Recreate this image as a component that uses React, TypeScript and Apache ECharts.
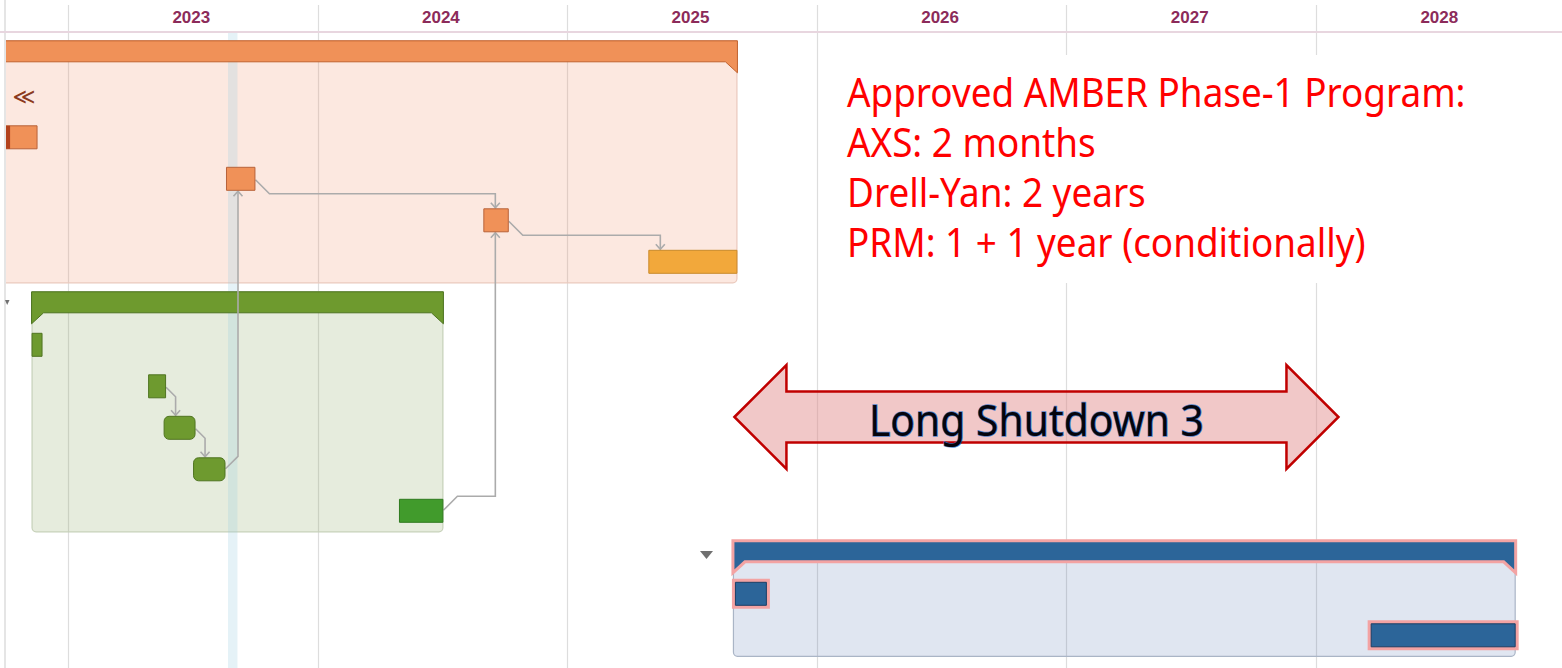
import React, { useEffect, useRef } from 'react';
import * as echarts from 'echarts';

// ---------- data ----------
const yearTicks = [2023, 2024, 2025, 2026, 2027, 2028];
const yearLabels = ['2023', '2024', '2025', '2026', '2027', '2028'];

// groups (summary bars)
const groupStart = [2022.6, 2022.854, 2025.664];
const groupEnd = [2025.682, 2024.504, 2028.8];
const groupFirstRow = [0, 6, 12];
const groupLastRow = [5, 11, 14];

// tasks
const taskStart = [2022.7, 2023.633, 2024.664, 2025.325, 2022.854, 2023.321, 2023.383, 2023.501, 2024.326, 2025.672, 2028.219];
const taskEnd = [2022.878, 2023.751, 2024.766, 2025.682, 2022.898, 2023.393, 2023.511, 2023.631, 2024.504, 2025.8, 2028.8];
const taskRow = [2, 3, 4, 5, 7, 8, 9, 10, 11, 13, 14];
const taskProgressEnd: (number | null)[] = [2022.768, null, null, null, null, null, null, null, null, null, null];

// dependencies (task index -> task index)
const depFrom = [1, 2, 5, 6, 7, 8];
const depTo = [2, 3, 6, 7, 1, 2];

// today marker
const todayStart = 2023.641;
const todayEnd = 2023.679;

// Long Shutdown 3
const ls3Start = 2025.67;
const ls3End = 2028.09;
const ls3Label = 'Long Shutdown 3';

// note
const noteLines = [
  'Approved AMBER Phase-1 Program:',
  'AXS: 2 months',
  'Drell-Yan: 2 years',
  'PRM: 1 + 1 year (conditionally)',
];

// ---------- styles ----------
const groupStyles = [
  { bg: 'rgba(242,150,115,0.22)', bgStroke: '#eac9bd', bar: '#f09158', barStroke: '#c0622e', barLw: 1, topAdj: -2 },
  { bg: 'rgba(140,170,100,0.22)', bgStroke: '#c6d1b9', bar: '#6e9a2e', barStroke: '#4d7420', barLw: 1, topAdj: 0 },
  { bg: 'rgba(60,100,170,0.16)', bgStroke: '#aab5c6', bar: '#2c6599', barStroke: '#f3a3a3', barLw: 3, topAdj: 0 },
];
const taskKind = ['orange', 'orange', 'orange', 'amber', 'green', 'green', 'greenR', 'greenR', 'green2', 'blue', 'blue'];
const taskStyles: Record<string, any> = {
  orange: { fill: '#f09158', stroke: '#b8633a', r: 0 },
  amber: { fill: '#f2a83b', stroke: '#c98a2a', r: 0 },
  green: { fill: '#6e9a2f', stroke: '#4f7420', r: 0 },
  greenR: { fill: '#6e9a2f', stroke: '#4f7420', r: 5 },
  green2: { fill: '#419b2c', stroke: '#2f7a1f', r: 0 },
  blue: { fill: '#2c6599', stroke: '#1b3f66', r: 0, glow: '#f3a3a3' },
};

const W = 1562;
const H = 668;

function buildOption() {
  const common = {
    type: 'custom' as const,
    coordinateSystem: 'cartesian2d',
    silent: true,
    animation: false,
  };

  const gridSeries = {
    ...common,
    z: 1,
    clip: false,
    encode: { x: 0, y: 1 },
    data: yearTicks.map((y) => [y, 0]),
    renderItem: (params: any, api: any) => {
      const x = Math.round(api.coord([api.value(0), 0])[0]) + 0.5;
      return {
        type: 'line',
        shape: { x1: x, y1: 5, x2: x, y2: H },
        style: { stroke: '#dddddd', lineWidth: 1.2 },
      };
    },
  };

  const labelSeries = {
    ...common,
    z: 20,
    clip: false,
    encode: { x: 0, y: 1 },
    data: yearTicks.map((y) => [y + 0.5, 0]),
    renderItem: (params: any, api: any) => {
      const x = api.coord([api.value(0), 0])[0] - 1.5;
      return {
        type: 'text',
        x,
        y: 17.5,
        style: {
          text: yearLabels[params.dataIndex],
          fill: '#8c2b5a',
          font: 'bold 17px "Liberation Sans", Arial, sans-serif',
          align: 'center',
          verticalAlign: 'middle',
          textAlign: 'center',
          textVerticalAlign: 'middle',
        },
      };
    },
  };

  const groupBgSeries = {
    ...common,
    z: 2,
    clip: true,
    encode: { x: [0, 1], y: [2, 3] },
    data: groupStart.map((s, i) => [s, groupEnd[i], groupFirstRow[i], groupLastRow[i]]),
    renderItem: (params: any, api: any) => {
      const st = groupStyles[params.dataIndex];
      const x0 = api.coord([api.value(0), 0])[0];
      const x1 = api.coord([api.value(1), 0])[0];
      const top = api.coord([0, api.value(2)])[1] - 11.5 + st.topAdj;
      const bottom = api.coord([0, api.value(3)])[1] + 21;
      return {
        type: 'rect',
        shape: { x: x0 + 0.5, y: top, width: x1 - x0 - 1, height: bottom - top, r: [0, 0, 4, 4] },
        style: { fill: st.bg, stroke: st.bgStroke, lineWidth: 1.2 },
      };
    },
  };

  const todaySeries = {
    ...common,
    z: 3,
    clip: false,
    encode: { x: [0, 1], y: 2 },
    data: [[todayStart, todayEnd, 0]],
    renderItem: (params: any, api: any) => {
      const x0 = api.coord([api.value(0), 0])[0];
      const x1 = api.coord([api.value(1), 0])[0];
      return {
        type: 'rect',
        shape: { x: x0, y: 33, width: x1 - x0, height: H - 33 },
        style: { fill: 'rgba(150,205,225,0.25)' },
      };
    },
  };

  const ls3Series = {
    ...common,
    z: 3,
    clip: false,
    encode: { x: [0, 1], y: 2 },
    data: [[ls3Start, ls3End, 0]],
    renderItem: (params: any, api: any) => {
      const a = api.coord([api.value(0), 0])[0];
      const b = api.coord([api.value(1), 0])[0];
      const yc = 417;
      const hl = 52;
      const hh = 52;
      const sh = 25.5;
      return {
        type: 'group',
        children: [
          {
            type: 'polygon',
            shape: {
              points: [
                [a, yc], [a + hl, yc - hh], [a + hl, yc - sh], [b - hl, yc - sh], [b - hl, yc - hh],
                [b, yc], [b - hl, yc + hh], [b - hl, yc + sh], [a + hl, yc + sh], [a + hl, yc + hh],
              ],
            },
            style: { fill: 'rgba(225,140,140,0.48)', stroke: '#c00000', lineWidth: 2.5, lineJoin: 'miter' },
          },
          {
            type: 'text',
            x: (a + b) / 2,
            y: 418,
            scaleX: 0.95,
            scaleY: 1.03,
            style: {
              text: ls3Label,
              fill: '#04040c',
              stroke: 'rgba(40,110,200,0.8)',
              lineWidth: 1.4,
              font: '43px "Noto Sans", sans-serif',
              align: 'center',
              verticalAlign: 'middle',
              textAlign: 'center',
              textVerticalAlign: 'middle',
              shadowColor: 'rgba(30,90,180,0.6)',
              shadowBlur: 3,
            },
          },
        ],
      };
    },
  };

  const groupBarSeries = {
    ...common,
    z: 5,
    clip: true,
    encode: { x: [0, 1], y: 2 },
    data: groupStart.map((s, i) => [s, groupEnd[i], groupFirstRow[i]]),
    renderItem: (params: any, api: any) => {
      const st = groupStyles[params.dataIndex];
      const x0 = api.coord([api.value(0), 0])[0];
      const x1 = api.coord([api.value(1), 0])[0];
      const top = api.coord([0, api.value(2)])[1] - 11.5 + st.topAdj;
      const bot = top + 21;
      return {
        type: 'polygon',
        shape: {
          points: [[x0, top], [x1, top], [x1, bot + 11], [x1 - 12, bot], [x0 + 12, bot], [x0, bot + 11]],
        },
        style: { fill: st.bar, stroke: st.barStroke, lineWidth: st.barLw, lineJoin: 'miter' },
      };
    },
  };

  const depSeries = {
    ...common,
    z: 6,
    clip: false,
    encode: { x: [0, 2, 3], y: [1, 4] },
    data: depFrom.map((f, i) => {
      const t = depTo[i];
      return [taskEnd[f], taskRow[f], taskStart[t], taskEnd[t], taskRow[t]];
    }),
    renderItem: (params: any, api: any) => {
      const s = api.coord([api.value(0), api.value(1)]);
      const t0 = api.coord([api.value(2), api.value(4)]);
      const t1 = api.coord([api.value(3), api.value(4)]);
      const xa = Math.min(t0[0] + 12, (t0[0] + t1[0]) / 2);
      const down = t0[1] > s[1];
      const dx = Math.max(4, Math.min(14, xa - s[0]));
      let pts: number[][];
      let head: number[][];
      if (down) {
        const y0 = s[1] + 1;
        const tip = t0[1] - 12.5;
        pts = [[s[0], y0], [s[0] + dx, y0 + dx], [xa, y0 + dx], [xa, tip]];
        head = [[xa - 4.5, tip - 5], [xa, tip], [xa + 4.5, tip - 5]];
      } else {
        const y0 = s[1] - 0.5;
        const tip = t0[1] + 12.5;
        pts = [[s[0], y0], [s[0] + dx, y0 - dx], [xa, y0 - dx], [xa, tip]];
        head = [[xa - 4.5, tip + 5], [xa, tip], [xa + 4.5, tip + 5]];
      }
      return {
        type: 'group',
        children: [
          { type: 'polyline', shape: { points: pts }, style: { stroke: '#ababab', lineWidth: 1.6, fill: null } },
          { type: 'polyline', shape: { points: head }, style: { stroke: '#ababab', lineWidth: 1.6, fill: null } },
        ],
      };
    },
  };

  const taskSeries = {
    ...common,
    z: 7,
    clip: true,
    encode: { x: [0, 1], y: 2 },
    data: taskStart.map((s, i) => [s, taskEnd[i], taskRow[i]]),
    renderItem: (params: any, api: any) => {
      const i = params.dataIndex;
      const st = taskStyles[taskKind[i]];
      const p0 = api.coord([api.value(0), api.value(2)]);
      const p1 = api.coord([api.value(1), api.value(2)]);
      const x = p0[0];
      const w = p1[0] - p0[0];
      const y = p0[1] - 12;
      const h = 24;
      const children: any[] = [];
      if (st.glow) {
        children.push({ type: 'rect', shape: { x: x - 3, y: y - 3, width: w + 6, height: h + 6 }, style: { fill: st.glow } });
      }
      children.push({
        type: 'rect',
        shape: { x: x + 0.5, y: y + 0.5, width: w - 1, height: h - 1, r: st.r },
        style: { fill: st.fill, stroke: st.stroke, lineWidth: 1 },
      });
      const pe = taskProgressEnd[i];
      if (pe != null) {
        const px = api.coord([pe, 0])[0];
        children.push({ type: 'rect', shape: { x, y: y + 0.5, width: px - x, height: h - 1 }, style: { fill: '#b3421c' } });
      }
      return { type: 'group', children };
    },
  };

  const noteX = 847;
  const noteY = [91, 141, 191, 241];

  const graphic: any[] = [
    { type: 'line', z: 50, shape: { x1: 5, y1: 0, x2: 5, y2: H }, style: { stroke: '#dcdcdc', lineWidth: 1.5 } },
    { type: 'line', z: 50, shape: { x1: 0, y1: 32, x2: W, y2: 32 }, style: { stroke: '#e8d6df', lineWidth: 2 } },
    { type: 'rect', z: 60, shape: { x: 830, y: 55, width: W - 830, height: 228 }, style: { fill: '#ffffff' } },
    ...noteLines.map((t, i) => ({
      type: 'text',
      z: 61,
      x: noteX,
      y: noteY[i],
      scaleX: 0.97,
      scaleY: 1.04,
      style: {
        text: t,
        fill: '#ff0000',
        font: '38px "Noto Sans", sans-serif',
        textAlign: 'left',
        textVerticalAlign: 'middle',
      },
    })),
    {
      type: 'text',
      z: 61,
      x: 24,
      y: 96,
      style: { text: '≪', fill: '#8b3a1f', font: '22px "DejaVu Sans", sans-serif', textAlign: 'center', textVerticalAlign: 'middle' },
    },
    { type: 'polygon', z: 61, shape: { points: [[700, 551], [713, 551], [706.5, 559]] }, style: { fill: '#707070' } },
    { type: 'polygon', z: 61, shape: { points: [[5, 300], [9.5, 300], [7.2, 305]] }, style: { fill: '#707070' } },
  ];

  return {
    animation: false,
    backgroundColor: '#ffffff',
    grid: { left: 6, right: 0, top: 0, bottom: 0, containLabel: false },
    xAxis: { type: 'value', min: 2022.7516, max: 2028.9856, show: false, splitLine: { show: false } },
    yAxis: { type: 'value', inverse: true, min: -1.3084, max: 14.788, show: false, splitLine: { show: false } },
    graphic,
    series: [gridSeries, groupBgSeries, todaySeries, ls3Series, groupBarSeries, depSeries, taskSeries, labelSeries],
  };
}

export default function App() {
  const ref = useRef<HTMLDivElement>(null);
  useEffect(() => {
    if (!ref.current) return;
    const chart = echarts.init(ref.current, null, { renderer: 'svg' });
    chart.setOption(buildOption() as any);
    return () => chart.dispose();
  }, []);
  return (
    <div
      ref={ref}
      style={{ position: 'absolute', left: 0, top: 0, width: W, height: H, background: '#ffffff' }}
    />
  );
}
